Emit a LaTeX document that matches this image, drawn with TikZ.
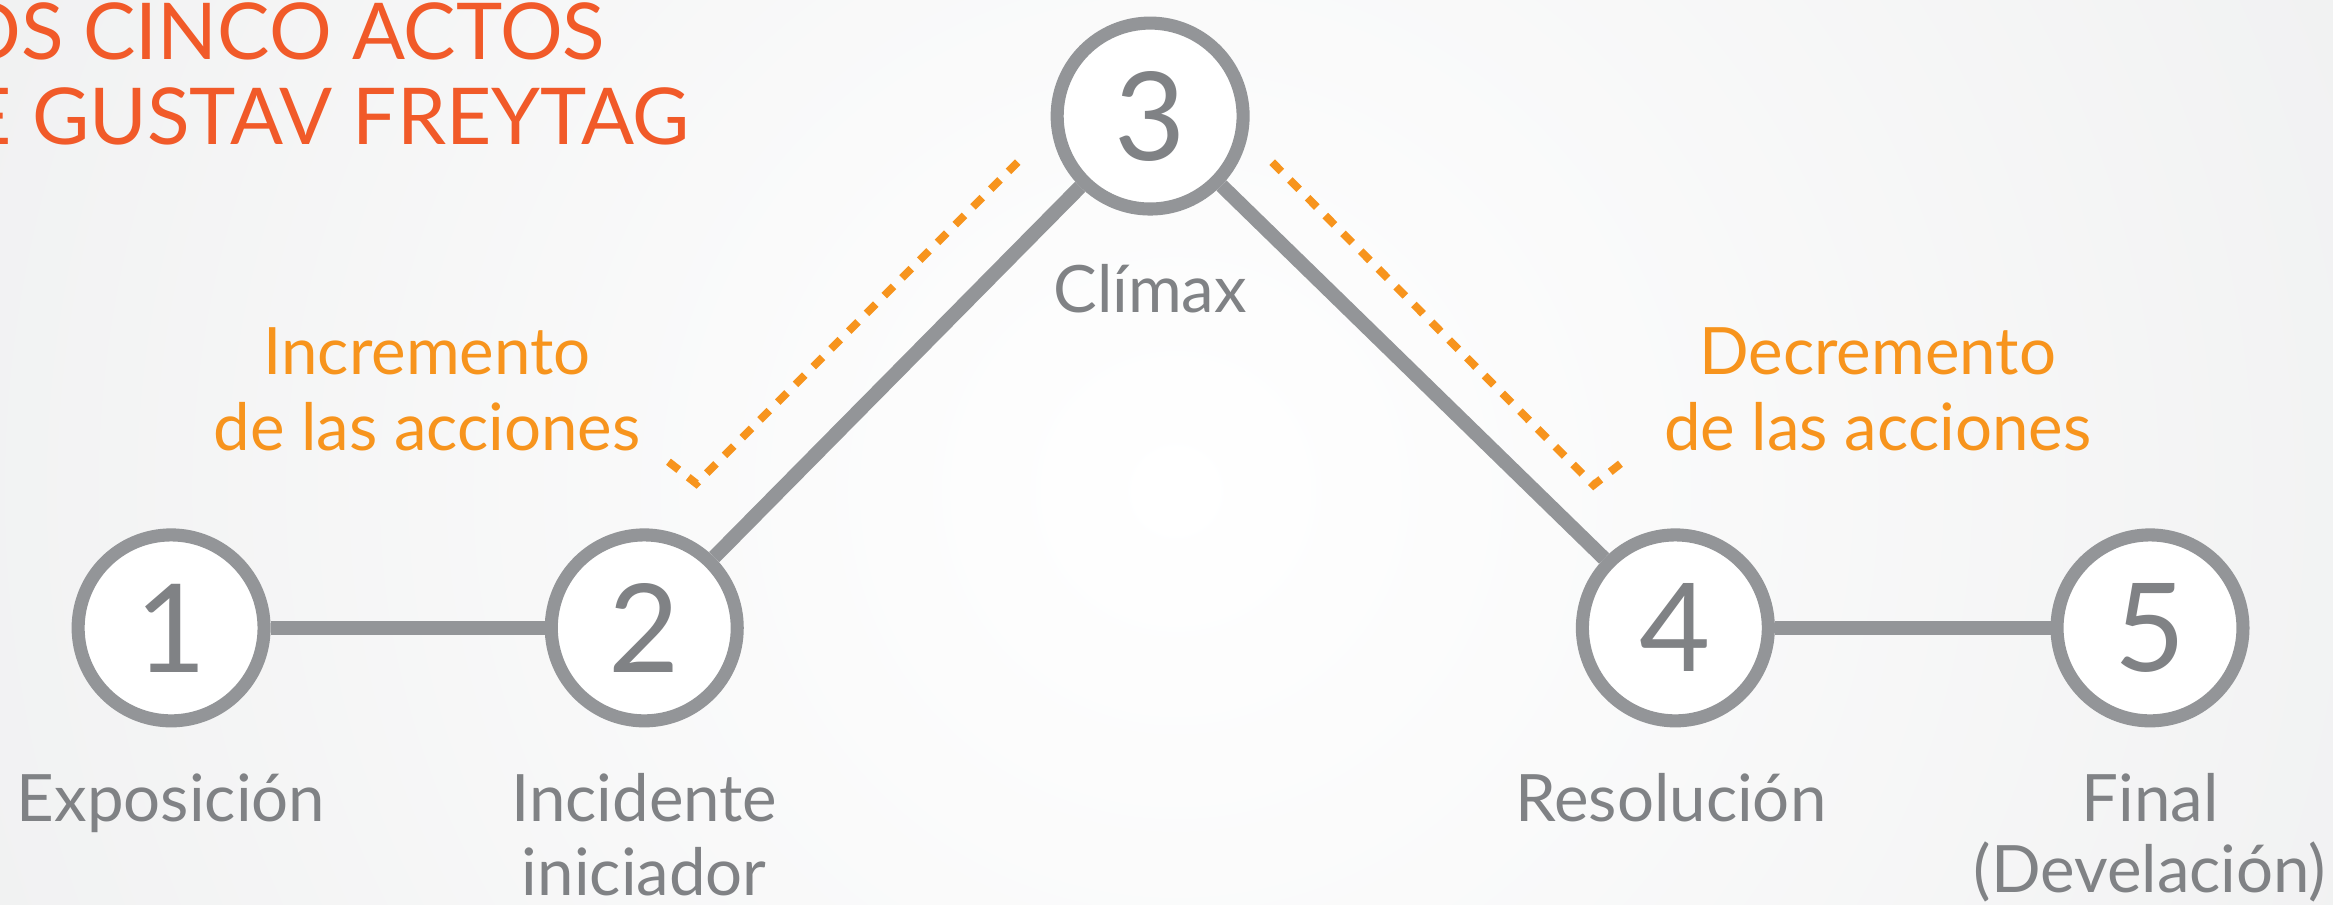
\documentclass[tikz,border=0pt]{standalone}
\usepackage{fontspec}
\setmainfont{Lato}
\definecolor{linegray}{HTML}{939598}
\definecolor{textgray}{HTML}{808285}
\definecolor{labelorange}{HTML}{F7941D}
\definecolor{titleorange}{HTML}{F15A29}
\definecolor{bgedge}{HTML}{E3E4E5}
\tikzset{
  stage/.style={circle, draw=linegray, line width=5pt, fill=white, minimum size=2.5cm, inner sep=0pt,
    text=textgray, font=\fontsize{47}{47}\selectfont},
  conn/.style={draw=linegray, line width=5.5pt},
  lbl/.style={text=textgray, font=\fontsize{25}{25}\selectfont, anchor=base, inner sep=0pt},
  olbl/.style={text=labelorange, font=\fontsize{25}{25}\selectfont, anchor=base, inner sep=0pt},
  ttl/.style={text=titleorange, font=\fontsize{30}{30}\selectfont, anchor=base east, inner sep=0pt},
  dots/.style={draw=labelorange, line width=3pt, dash pattern=on 5pt off 4.6pt}
}
\begin{document}
\begin{tikzpicture}[x=0.02cm,y=-0.02cm]
\useasboundingbox (0,0) rectangle (1568,608);
\begin{scope}
\clip (0,0) rectangle (1568,608);
\shade[inner color=white, outer color=bgedge] (790,330) circle (1700);
\end{scope}
% title
\node[ttl] (t1) at (407,40) {LOS CINCO ACTOS};
\node[ttl] (t2) at (464,97) {DE GUSTAV FREYTAG};
% stages
\node[stage] (c1) at (115,422) {1};
\node[stage] (c2) at (433,422) {2};
\node[stage] (c3) at (773,78) {3};
\node[stage] (c4) at (1126,422) {4};
\node[stage] (c5) at (1445,422) {5};
\draw[conn] (c1) -- (c2);
\draw[conn] (c2) -- (c3);
\draw[conn] (c3) -- (c4);
\draw[conn] (c4) -- (c5);
% labels
\node[lbl] (l1) at (115,552) {Exposición};
\node[lbl] (l2a) at (433,552) {Incidente};
\node[lbl] (l2b) at (433,602) {iniciador};
\node[lbl] (l3) at (773,210) {Clímax};
\node[lbl] (l4) at (1123,552) {Resolución};
\node[lbl] (l5a) at (1445,552) {Final};
\node[lbl] (l5b) at (1445,600) {(Develación)};
% orange labels
\node[olbl] (o1a) at (287,252) {Incremento};
\node[olbl] (o1b) at (287,303) {de las acciones};
\node[olbl] (o2a) at (1262,252) {Decremento};
\node[olbl] (o2b) at (1262,303) {de las acciones};
% dotted guides
\coordinate (a1) at (684,109);
\coordinate (a2) at (468,325);
\coordinate (a3) at (445,307);
\coordinate (b1) at (855,109);
\coordinate (b2) at (1071,326);
\coordinate (b3) at (1095,307);
\draw[dots] (a1) -- (a2) -- (a3);
\draw[dots] (b1) -- (b2) -- (b3);
\end{tikzpicture}
\end{document}
